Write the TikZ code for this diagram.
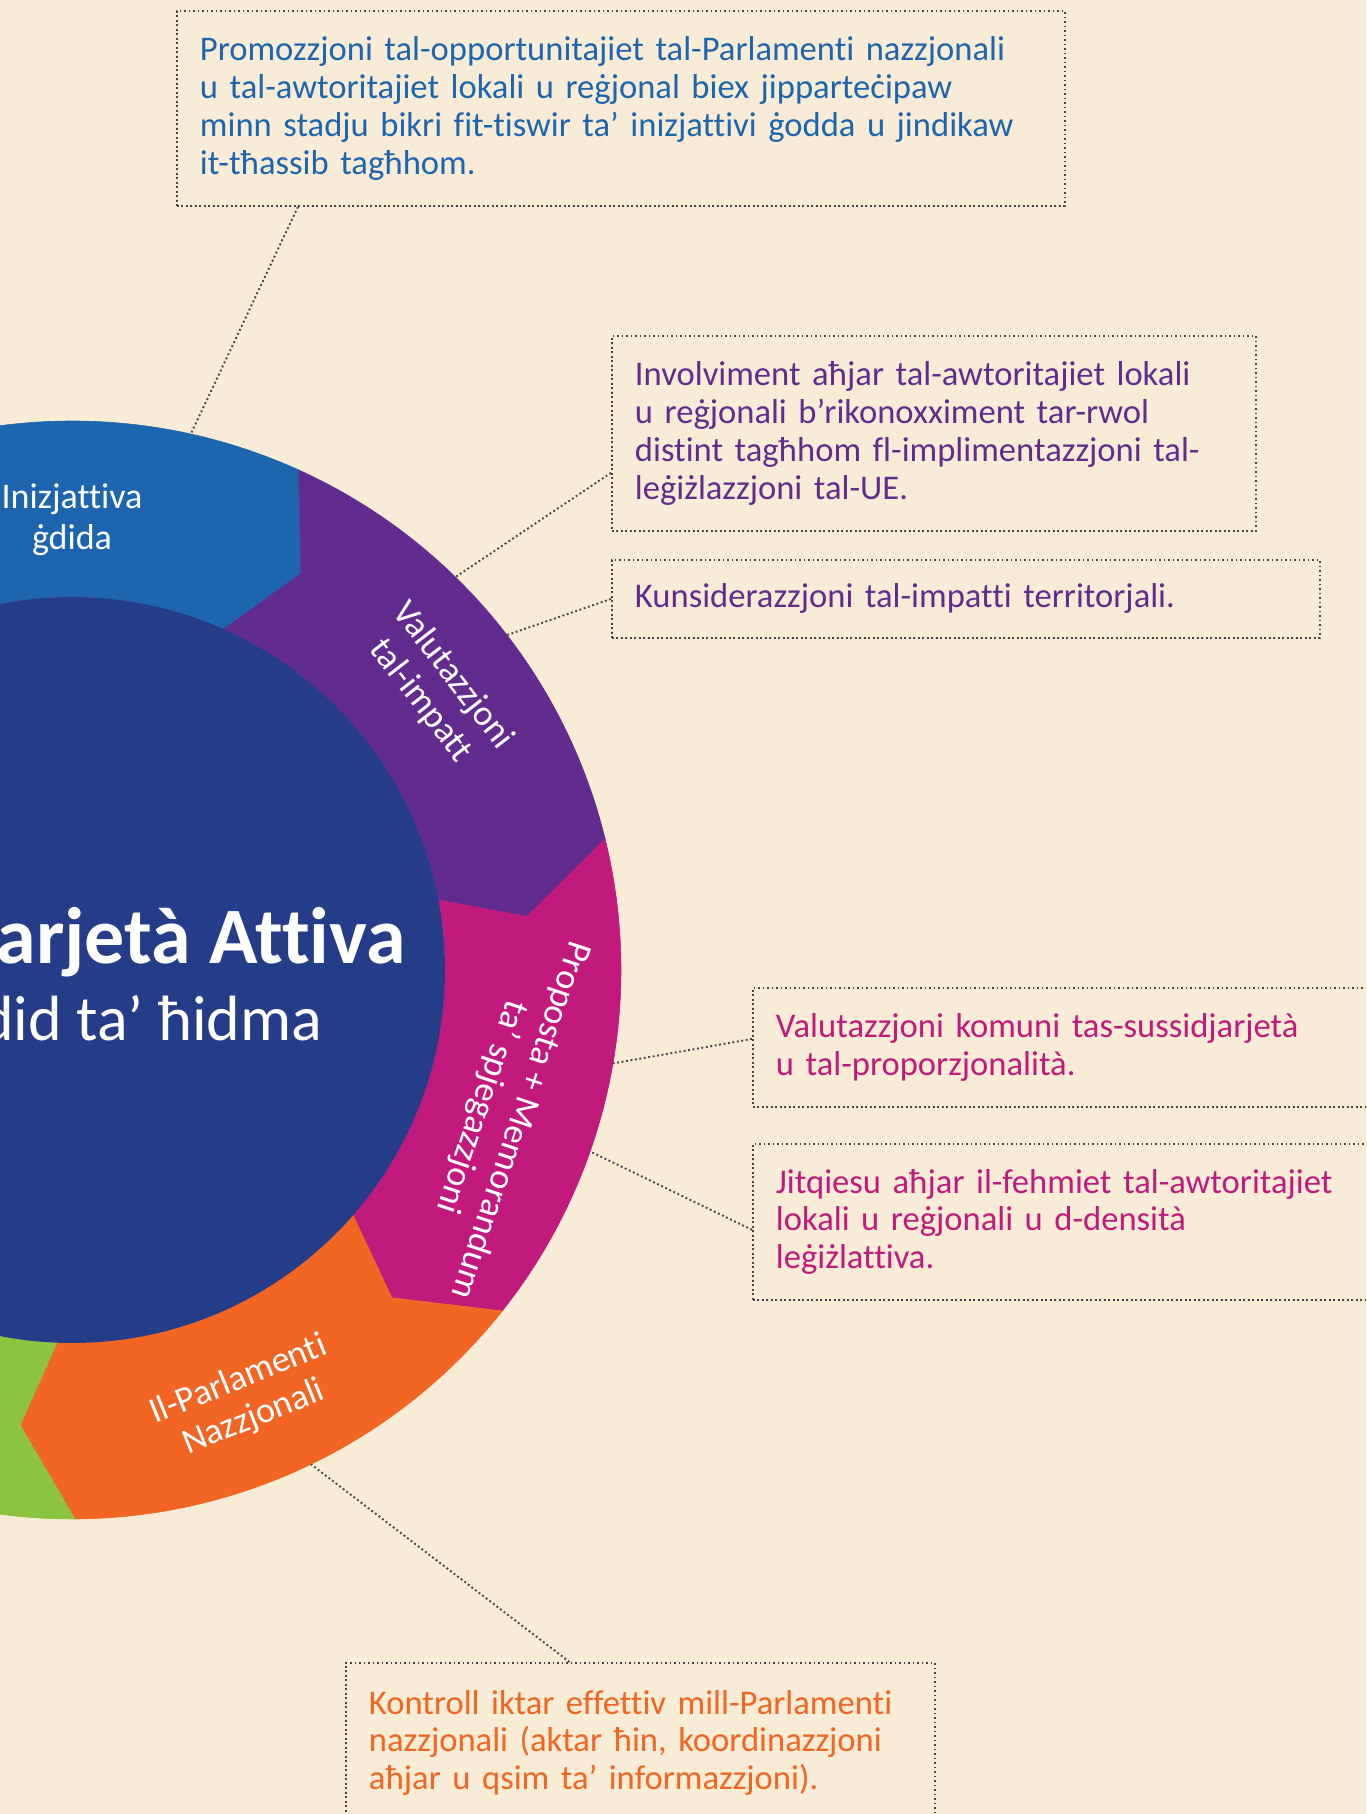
\documentclass[tikz,border=0pt]{standalone}
\usepackage{fontspec}
\setmainfont{Carlito}[Ligatures={TeX,NoCommon}]
\usetikzlibrary{calc}
\definecolor{paper}{RGB}{249,236,215}
\definecolor{initblue}{RGB}{29,101,175}
\definecolor{core}{RGB}{37,60,137}
\definecolor{impact}{RGB}{98,44,143}
\definecolor{proposal}{RGB}{194,25,125}
\definecolor{parl}{RGB}{242,101,34}
\definecolor{seggreen}{RGB}{140,196,63}
\definecolor{leader}{RGB}{70,70,70}
\tikzset{
  note/.style={draw=leader, dash pattern=on 1.9pt off 2.6pt, line width=1.9pt,
               anchor=north west, align=left, inner xsep=23pt, inner ysep=0pt,
               font=\fontsize{34.6}{37.8}\selectfont},
  lead/.style={draw=leader, dash pattern=on 1.9pt off 2.6pt, line width=1.9pt},
  seglabel/.style={text=white, align=center, font=\fontsize{36}{41}\selectfont},
}

\begin{document}
\begin{tikzpicture}[x=1pt, y=1pt]
  \useasboundingbox (0,0) rectangle (1366,1814);
  \clip (0,0) rectangle (1366,1814);
  \fill[paper] (0,0) rectangle (1366,1814);

  \coordinate (C) at (72,844);
  \def\Ro{549} \def\Rt{458} \def\Ri{373}

  %% ring: colour / outer, tip, inner angle of leading edge / same of trailing edge
  \foreach \col/\oa/\ta/\ia/\ob/\tb/\ib in {
      initblue/117/111/118/65.6/60/66,
      impact/65.6/60/66/13.8/6.7/10.8,
      proposal/13.8/6.7/10.8/-38.4/-45.7/-41.1,
      parl/-38.4/-45.7/-41.1/-89.7/-96.5/-92.3,
      seggreen/-89.7/-96.5/-92.3/-141/-148/-143} {
    \filldraw[fill=\col, draw=\col, line width=0.6pt]
      ($(C)+(\oa:\Ro)$) arc[start angle=\oa, end angle=\ob, radius=\Ro]
      -- ($(C)+(\tb:\Rt)$) -- ($(C)+(\ib:\Ri)$)
      arc[start angle=\ib, end angle=\ia, radius=\Ri]
      -- ($(C)+(\ta:\Rt)$) -- cycle;
  }
  \fill[core] (C) circle[radius=\Ri];

  \node[seglabel] (lini) at ($(C)+(90:450)$) {Inizjattiva\\ġdida};
  \node[seglabel, rotate=-52.3] (limp) at ($(C)+(37.7:461)$) {Valutazzjoni\\tal-impatt};
  \node[seglabel, rotate=-108.5] (lprop) at ($(C)+(-18.5:452)$) {Proposta + Memorandum\\ta’ spjegazzjoni};
  \node[seglabel, rotate=22.1] (lparl) at ($(C)+(-67.9:463)$) {Il-Parlamenti\\Nazzjonali};

  %% centre title
  \node[anchor=base east, text=white, font=\bfseries\fontsize{80}{88}\selectfont] (ttl) at (409,850.5) {Sussidjarjetà Attiva};
  \node[anchor=base east, text=white, font=\fontsize{64}{70}\selectfont] (sub) at (326,773) {Mod ġdid ta’ ħidma};

  %% notes
  \node[note, text=initblue, text width=842pt, minimum height=195pt] (b1) at (176,1804)
    {Promozzjoni tal-opportunitajiet tal-Parlamenti nazzjonali\\
     u tal-awtoritajiet lokali u reġjonal biex jipparteċipaw\\
     minn stadju bikri fit-tiswir ta’ inizjattivi ġodda u jindikaw\\
     it-tħassib tagħhom.};
  \node[note, text=impact, text width=598pt, minimum height=195pt] (b2) at (611,1479)
    {Involviment aħjar tal-awtoritajiet lokali\\
     u reġjonali b’rikonoxximent tar-rwol\\
     distint tagħhom fl-implimentazzjoni tal-\\
     leġiżlazzjoni tal-UE.};
  \node[note, text=impact, text width=662pt, minimum height=78pt] (b3) at (611,1255)
    {Kunsiderazzjoni tal-impatti territorjali.};
  \node[note, text=proposal, text width=582pt, minimum height=119pt] (b4) at (752,827)
    {Valutazzjoni komuni tas-sussidjarjetà\\
     u tal-proporzjonalità.};
  \node[note, text=proposal, text width=582pt, minimum height=156pt] (b5) at (752,671)
    {Jitqiesu aħjar il-fehmiet tal-awtoritajiet\\
     lokali u reġjonali u d-densità\\
     leġiżlattiva.};
  \node[note, text=parl, text width=543pt, minimum height=160pt] (b6) at (345,152)
    {Kontroll iktar effettiv mill-Parlamenti\\
     nazzjonali (aktar ħin, koordinazzjoni\\
     aħjar u qsim ta’ informazzjoni).};

  %% leaders to the ring
  \coordinate (r1) at ($(C)+(77.5:\Ro)$);
  \coordinate (r2) at ($(C)+(45.7:\Ro)$);
  \coordinate (r3) at ($(C)+(37.6:\Ro)$);
  \coordinate (r4) at ($(C)+(-9.8:\Ro)$);
  \coordinate (r5) at ($(C)+(-19.3:\Ro)$);
  \coordinate (r6) at ($(C)+(-64.2:\Ro)$);
  \draw[lead] ($(b1.south west)!.137!(b1.south east)$) -- (r1);
  \draw[lead] ($(b2.north west)!.7!(b2.south west)$) -- (r2);
  \draw[lead] (b3.west) -- (r3);
  \draw[lead] ($(b4.north west)!.43!(b4.south west)$) -- (r4);
  \draw[lead] ($(b5.north west)!.55!(b5.south west)$) -- (r5);
  \draw[lead] ($(b6.north west)!.38!(b6.north east)$) -- (r6);
\end{tikzpicture}
\end{document}
